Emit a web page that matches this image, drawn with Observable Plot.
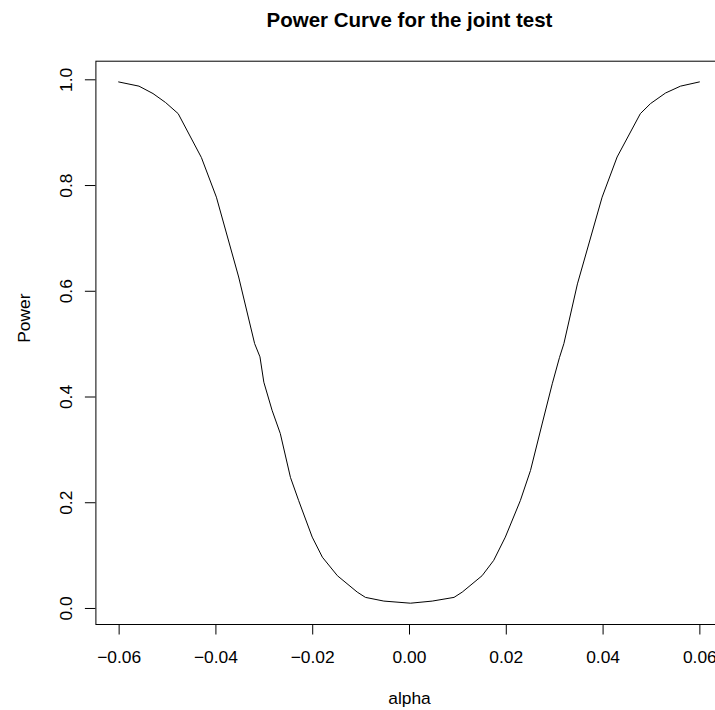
<!DOCTYPE html>
<html>
<head>
<meta charset="utf-8">
<script src="https://cdn.jsdelivr.net/npm/d3@7"></script>
<script src="https://cdn.jsdelivr.net/npm/@observablehq/plot@0.6"></script>
<style>
  html, body { margin: 0; padding: 0; background: #fff; overflow: hidden; }
  #chart { width: 715px; height: 710px; overflow: hidden; }
  #chart svg { max-width: none !important; width: 760px !important; height: 710px !important; display: block; }
</style>
</head>
<body>
<div id="chart"></div>
<script>
const alpha = [-0.0601, -0.0559, -0.0530, -0.0504, -0.0478, -0.0430, -0.0399, -0.0353, -0.0320, -0.0309, -0.0301, -0.0284, -0.0267, -0.0246, -0.0229, -0.0201, -0.0180, -0.0149, -0.0108, -0.0091, -0.0053, 0.0002, 0.0047, 0.0092, 0.0109, 0.0150, 0.0174, 0.0198, 0.0229, 0.0250, 0.0274, 0.0295, 0.0310, 0.0319, 0.0347, 0.0398, 0.0429, 0.0477, 0.0498, 0.0529, 0.0560, 0.0599];
const power = [0.996, 0.988, 0.974, 0.957, 0.936, 0.853, 0.778, 0.627, 0.501, 0.476, 0.428, 0.375, 0.331, 0.248, 0.204, 0.135, 0.097, 0.062, 0.031, 0.021, 0.014, 0.010, 0.014, 0.021, 0.031, 0.062, 0.091, 0.135, 0.204, 0.261, 0.349, 0.425, 0.475, 0.501, 0.614, 0.778, 0.854, 0.936, 0.955, 0.975, 0.988, 0.996];
const xTicks = [-0.06, -0.04, -0.02, 0, 0.02, 0.04, 0.06];
const yTicks = [0, 0.2, 0.4, 0.6, 0.8, 1.0];
const titleText = "Power Curve for the joint test";
const xLabel = "alpha";
const yLabel = "Power";

const data = alpha.map((a, i) => ({alpha: a, power: power[i]}));
const font = "'Liberation Sans', Arial, Helvetica, sans-serif";
const fs = 17.4;

const chart = Plot.plot({
  width: 760,
  height: 710,
  marginLeft: 95.4,
  marginRight: 37.4,
  marginTop: 60.7,
  marginBottom: 86,
  style: {fontFamily: font, fontSize: fs + "px", color: "black", background: "white", maxWidth: "none"},
  x: {domain: [-0.0648, 0.0648]},
  y: {domain: [-0.0303, 1.0352]},
  marks: [
    Plot.frame({stroke: "black", strokeWidth: 1}),
    Plot.axisX(xTicks, {
      tickSize: 10.5, tickPadding: 15.9, fontSize: fs,
      tickFormat: d => (d < 0 ? "\u2212" : "") + Math.abs(d).toFixed(2),
      label: null, stroke: "black"
    }),
    Plot.axisY(yTicks, {
      tickSize: 10.5, tickPadding: 13.5, fontSize: fs, tickRotate: -90,
      tickFormat: d => d.toFixed(1), label: null, stroke: "black"
    }),
    Plot.line(data, {x: "alpha", y: "power", stroke: "black", strokeWidth: 1}),
    Plot.text([titleText], {frameAnchor: "top", lineAnchor: "middle", dy: -40.6, fontSize: 20.5, fontWeight: "bold", fill: "black"}),
    Plot.text([xLabel], {frameAnchor: "bottom", lineAnchor: "middle", dy: 74.4, fontSize: fs, fill: "black"}),
    Plot.text([yLabel], {frameAnchor: "left", dx: -66, rotate: -90, lineAnchor: "bottom", fontSize: fs, fill: "black"})
  ]
});
document.getElementById("chart").appendChild(chart);
</script>
</body>
</html>
